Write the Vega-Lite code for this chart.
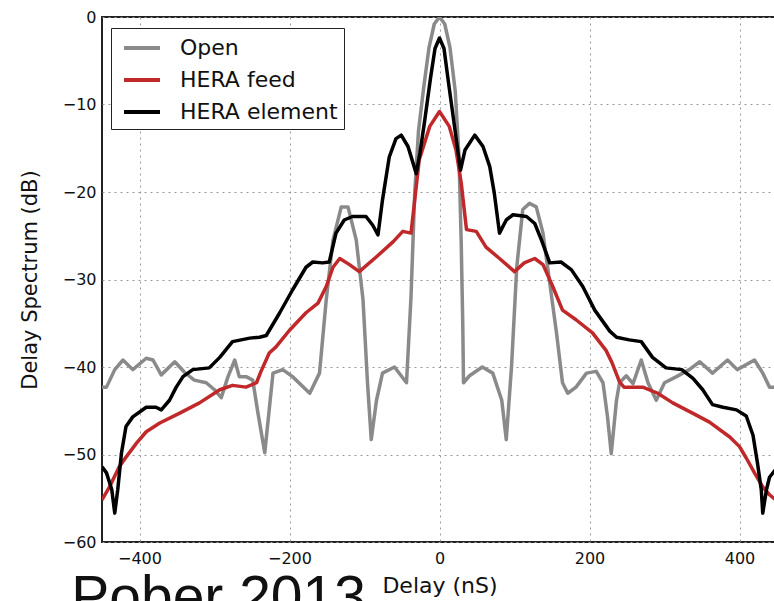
{
  "$schema": "https://vega.github.io/schema/vega-lite/v6.json",
  "width": 675,
  "height": 525,
  "autosize": {"type": "none"},
  "padding": {"left": 102, "top": 17, "right": 0, "bottom": 59},
  "background": "white",
  "config": {
    "font": "DejaVu Sans",
    "view": {"stroke": "#222222", "strokeWidth": 2},
    "axis": {
      "grid": true,
      "gridColor": "#999999",
      "gridDash": [2, 4],
      "gridWidth": 1,
      "ticks": false,
      "domain": false,
      "labelFont": "DejaVu Sans",
      "labelFontSize": 16,
      "labelColor": "#111111",
      "titleFont": "DejaVu Sans",
      "titleFontSize": 21,
      "titleFontWeight": "normal",
      "titleColor": "#111111"
    }
  },
  "title": {
    "text": "Pober 2013",
    "orient": "bottom",
    "anchor": "start",
    "font": "Liberation Sans",
    "fontSize": 57,
    "fontWeight": "normal",
    "color": "#111111",
    "baseline": "top",
    "offset": -25,
    "dx": 52
  },
  "data": {
    "values": [
      {"series": "Open", "delay": -450, "db": -42.3},
      {"series": "Open", "delay": -444, "db": -42.3},
      {"series": "Open", "delay": -433, "db": -40.3},
      {"series": "Open", "delay": -422, "db": -39.2},
      {"series": "Open", "delay": -409, "db": -40.3},
      {"series": "Open", "delay": -391, "db": -39.0},
      {"series": "Open", "delay": -382, "db": -39.2},
      {"series": "Open", "delay": -371, "db": -40.9},
      {"series": "Open", "delay": -353, "db": -39.4},
      {"series": "Open", "delay": -340, "db": -40.6},
      {"series": "Open", "delay": -327, "db": -41.5},
      {"series": "Open", "delay": -311, "db": -41.8},
      {"series": "Open", "delay": -300, "db": -42.6},
      {"series": "Open", "delay": -291, "db": -43.5},
      {"series": "Open", "delay": -282, "db": -41.1},
      {"series": "Open", "delay": -273, "db": -39.2},
      {"series": "Open", "delay": -267, "db": -41.1},
      {"series": "Open", "delay": -258, "db": -41.1},
      {"series": "Open", "delay": -249, "db": -41.5},
      {"series": "Open", "delay": -242, "db": -45.3},
      {"series": "Open", "delay": -233, "db": -49.8},
      {"series": "Open", "delay": -226, "db": -44.0},
      {"series": "Open", "delay": -222, "db": -40.7},
      {"series": "Open", "delay": -209, "db": -40.3},
      {"series": "Open", "delay": -196, "db": -41.1},
      {"series": "Open", "delay": -173, "db": -43.0},
      {"series": "Open", "delay": -160, "db": -40.7},
      {"series": "Open", "delay": -151, "db": -32.3},
      {"series": "Open", "delay": -142, "db": -25.5},
      {"series": "Open", "delay": -131, "db": -21.7},
      {"series": "Open", "delay": -122, "db": -21.7},
      {"series": "Open", "delay": -111, "db": -25.5},
      {"series": "Open", "delay": -102, "db": -32.3},
      {"series": "Open", "delay": -96, "db": -41.8},
      {"series": "Open", "delay": -91, "db": -48.3},
      {"series": "Open", "delay": -84, "db": -43.8},
      {"series": "Open", "delay": -76, "db": -40.7},
      {"series": "Open", "delay": -60, "db": -40.0},
      {"series": "Open", "delay": -44, "db": -41.8},
      {"series": "Open", "delay": -38, "db": -32.0},
      {"series": "Open", "delay": -33, "db": -20.0},
      {"series": "Open", "delay": -28, "db": -13.0},
      {"series": "Open", "delay": -21, "db": -8.0},
      {"series": "Open", "delay": -14, "db": -3.5},
      {"series": "Open", "delay": -7, "db": -0.8},
      {"series": "Open", "delay": 0, "db": 0.0},
      {"series": "Open", "delay": 7, "db": -0.8},
      {"series": "Open", "delay": 14, "db": -3.5},
      {"series": "Open", "delay": 21, "db": -8.5},
      {"series": "Open", "delay": 26, "db": -16.0},
      {"series": "Open", "delay": 29, "db": -26.0},
      {"series": "Open", "delay": 31, "db": -35.0},
      {"series": "Open", "delay": 32, "db": -41.8},
      {"series": "Open", "delay": 40, "db": -41.0},
      {"series": "Open", "delay": 57, "db": -40.0},
      {"series": "Open", "delay": 71, "db": -40.7},
      {"series": "Open", "delay": 83, "db": -43.8},
      {"series": "Open", "delay": 89, "db": -48.3},
      {"series": "Open", "delay": 96, "db": -40.0},
      {"series": "Open", "delay": 103, "db": -28.6},
      {"series": "Open", "delay": 111, "db": -22.0},
      {"series": "Open", "delay": 120, "db": -21.3},
      {"series": "Open", "delay": 129, "db": -21.7},
      {"series": "Open", "delay": 138, "db": -24.7},
      {"series": "Open", "delay": 147, "db": -30.4},
      {"series": "Open", "delay": 156, "db": -36.1},
      {"series": "Open", "delay": 164, "db": -41.8},
      {"series": "Open", "delay": 171, "db": -43.0},
      {"series": "Open", "delay": 182, "db": -42.3},
      {"series": "Open", "delay": 196, "db": -40.7},
      {"series": "Open", "delay": 209, "db": -40.5},
      {"series": "Open", "delay": 218, "db": -41.8},
      {"series": "Open", "delay": 224, "db": -45.7},
      {"series": "Open", "delay": 229, "db": -49.9},
      {"series": "Open", "delay": 236, "db": -43.8},
      {"series": "Open", "delay": 240, "db": -41.8},
      {"series": "Open", "delay": 249, "db": -41.0},
      {"series": "Open", "delay": 258, "db": -41.9},
      {"series": "Open", "delay": 269, "db": -39.2},
      {"series": "Open", "delay": 278, "db": -41.8},
      {"series": "Open", "delay": 289, "db": -43.8},
      {"series": "Open", "delay": 300, "db": -41.8},
      {"series": "Open", "delay": 316, "db": -41.1},
      {"series": "Open", "delay": 333, "db": -40.3},
      {"series": "Open", "delay": 347, "db": -39.4},
      {"series": "Open", "delay": 364, "db": -40.7},
      {"series": "Open", "delay": 384, "db": -39.2},
      {"series": "Open", "delay": 397, "db": -40.3},
      {"series": "Open", "delay": 420, "db": -39.2},
      {"series": "Open", "delay": 431, "db": -40.7},
      {"series": "Open", "delay": 440, "db": -42.3},
      {"series": "Open", "delay": 450, "db": -42.3},

      {"series": "HERA feed", "delay": -450, "db": -55.2},
      {"series": "HERA feed", "delay": -440, "db": -53.7},
      {"series": "HERA feed", "delay": -427, "db": -51.4},
      {"series": "HERA feed", "delay": -418, "db": -50.3},
      {"series": "HERA feed", "delay": -404, "db": -48.7},
      {"series": "HERA feed", "delay": -391, "db": -47.4},
      {"series": "HERA feed", "delay": -373, "db": -46.4},
      {"series": "HERA feed", "delay": -347, "db": -45.3},
      {"series": "HERA feed", "delay": -320, "db": -44.1},
      {"series": "HERA feed", "delay": -293, "db": -42.6},
      {"series": "HERA feed", "delay": -276, "db": -42.1},
      {"series": "HERA feed", "delay": -258, "db": -42.3},
      {"series": "HERA feed", "delay": -244, "db": -41.8},
      {"series": "HERA feed", "delay": -238, "db": -40.5},
      {"series": "HERA feed", "delay": -227, "db": -38.4},
      {"series": "HERA feed", "delay": -218, "db": -37.7},
      {"series": "HERA feed", "delay": -200, "db": -35.8},
      {"series": "HERA feed", "delay": -178, "db": -33.8},
      {"series": "HERA feed", "delay": -162, "db": -32.7},
      {"series": "HERA feed", "delay": -151, "db": -30.8},
      {"series": "HERA feed", "delay": -142, "db": -28.6},
      {"series": "HERA feed", "delay": -133, "db": -27.6},
      {"series": "HERA feed", "delay": -120, "db": -28.3},
      {"series": "HERA feed", "delay": -107, "db": -29.1},
      {"series": "HERA feed", "delay": -84, "db": -27.4},
      {"series": "HERA feed", "delay": -62, "db": -25.7},
      {"series": "HERA feed", "delay": -49, "db": -24.5},
      {"series": "HERA feed", "delay": -38, "db": -24.7},
      {"series": "HERA feed", "delay": -33, "db": -20.9},
      {"series": "HERA feed", "delay": -27, "db": -16.3},
      {"series": "HERA feed", "delay": -13, "db": -12.5},
      {"series": "HERA feed", "delay": 0, "db": -10.8},
      {"series": "HERA feed", "delay": 13, "db": -12.5},
      {"series": "HERA feed", "delay": 22, "db": -15.2},
      {"series": "HERA feed", "delay": 29, "db": -19.0},
      {"series": "HERA feed", "delay": 36, "db": -24.3},
      {"series": "HERA feed", "delay": 49, "db": -24.5},
      {"series": "HERA feed", "delay": 62, "db": -26.3},
      {"series": "HERA feed", "delay": 80, "db": -27.6},
      {"series": "HERA feed", "delay": 100, "db": -29.1},
      {"series": "HERA feed", "delay": 113, "db": -28.1},
      {"series": "HERA feed", "delay": 127, "db": -27.6},
      {"series": "HERA feed", "delay": 138, "db": -28.3},
      {"series": "HERA feed", "delay": 151, "db": -30.8},
      {"series": "HERA feed", "delay": 164, "db": -33.5},
      {"series": "HERA feed", "delay": 182, "db": -34.6},
      {"series": "HERA feed", "delay": 204, "db": -36.1},
      {"series": "HERA feed", "delay": 222, "db": -38.1},
      {"series": "HERA feed", "delay": 230, "db": -39.5},
      {"series": "HERA feed", "delay": 240, "db": -41.7},
      {"series": "HERA feed", "delay": 246, "db": -42.3},
      {"series": "HERA feed", "delay": 271, "db": -42.3},
      {"series": "HERA feed", "delay": 291, "db": -43.0},
      {"series": "HERA feed", "delay": 311, "db": -44.1},
      {"series": "HERA feed", "delay": 338, "db": -45.3},
      {"series": "HERA feed", "delay": 360, "db": -46.3},
      {"series": "HERA feed", "delay": 387, "db": -48.0},
      {"series": "HERA feed", "delay": 400, "db": -49.1},
      {"series": "HERA feed", "delay": 409, "db": -50.4},
      {"series": "HERA feed", "delay": 420, "db": -52.1},
      {"series": "HERA feed", "delay": 431, "db": -53.7},
      {"series": "HERA feed", "delay": 440, "db": -54.6},
      {"series": "HERA feed", "delay": 450, "db": -55.3},

      {"series": "HERA element", "delay": -450, "db": -51.4},
      {"series": "HERA element", "delay": -444, "db": -52.1},
      {"series": "HERA element", "delay": -437, "db": -54.0},
      {"series": "HERA element", "delay": -433, "db": -56.7},
      {"series": "HERA element", "delay": -429, "db": -54.0},
      {"series": "HERA element", "delay": -424, "db": -49.8},
      {"series": "HERA element", "delay": -418, "db": -46.8},
      {"series": "HERA element", "delay": -409, "db": -45.7},
      {"series": "HERA element", "delay": -391, "db": -44.6},
      {"series": "HERA element", "delay": -378, "db": -44.6},
      {"series": "HERA element", "delay": -371, "db": -44.9},
      {"series": "HERA element", "delay": -360, "db": -43.8},
      {"series": "HERA element", "delay": -351, "db": -42.3},
      {"series": "HERA element", "delay": -342, "db": -41.1},
      {"series": "HERA element", "delay": -329, "db": -40.3},
      {"series": "HERA element", "delay": -307, "db": -40.1},
      {"series": "HERA element", "delay": -293, "db": -38.9},
      {"series": "HERA element", "delay": -276, "db": -37.1},
      {"series": "HERA element", "delay": -253, "db": -36.7},
      {"series": "HERA element", "delay": -240, "db": -36.6},
      {"series": "HERA element", "delay": -231, "db": -36.4},
      {"series": "HERA element", "delay": -213, "db": -33.8},
      {"series": "HERA element", "delay": -196, "db": -31.2},
      {"series": "HERA element", "delay": -178, "db": -28.6},
      {"series": "HERA element", "delay": -169, "db": -28.0},
      {"series": "HERA element", "delay": -156, "db": -28.1},
      {"series": "HERA element", "delay": -147, "db": -28.0},
      {"series": "HERA element", "delay": -138, "db": -24.7},
      {"series": "HERA element", "delay": -127, "db": -23.2},
      {"series": "HERA element", "delay": -116, "db": -22.8},
      {"series": "HERA element", "delay": -98, "db": -22.8},
      {"series": "HERA element", "delay": -89, "db": -23.8},
      {"series": "HERA element", "delay": -82, "db": -24.9},
      {"series": "HERA element", "delay": -76, "db": -20.9},
      {"series": "HERA element", "delay": -67, "db": -16.0},
      {"series": "HERA element", "delay": -58, "db": -13.9},
      {"series": "HERA element", "delay": -51, "db": -13.5},
      {"series": "HERA element", "delay": -42, "db": -14.8},
      {"series": "HERA element", "delay": -31, "db": -17.9},
      {"series": "HERA element", "delay": -26, "db": -15.5},
      {"series": "HERA element", "delay": -20, "db": -12.0},
      {"series": "HERA element", "delay": -12, "db": -7.0},
      {"series": "HERA element", "delay": -6, "db": -3.6},
      {"series": "HERA element", "delay": 0, "db": -2.4},
      {"series": "HERA element", "delay": 6, "db": -3.6},
      {"series": "HERA element", "delay": 12, "db": -7.5},
      {"series": "HERA element", "delay": 20, "db": -12.5},
      {"series": "HERA element", "delay": 28, "db": -17.5},
      {"series": "HERA element", "delay": 34, "db": -15.2},
      {"series": "HERA element", "delay": 47, "db": -13.5},
      {"series": "HERA element", "delay": 58, "db": -14.8},
      {"series": "HERA element", "delay": 67, "db": -17.1},
      {"series": "HERA element", "delay": 73, "db": -20.1},
      {"series": "HERA element", "delay": 80, "db": -24.7},
      {"series": "HERA element", "delay": 89, "db": -23.2},
      {"series": "HERA element", "delay": 98, "db": -22.6},
      {"series": "HERA element", "delay": 116, "db": -22.8},
      {"series": "HERA element", "delay": 127, "db": -23.6},
      {"series": "HERA element", "delay": 136, "db": -25.5},
      {"series": "HERA element", "delay": 147, "db": -28.1},
      {"series": "HERA element", "delay": 162, "db": -28.0},
      {"series": "HERA element", "delay": 176, "db": -28.9},
      {"series": "HERA element", "delay": 191, "db": -30.8},
      {"series": "HERA element", "delay": 207, "db": -33.5},
      {"series": "HERA element", "delay": 227, "db": -35.9},
      {"series": "HERA element", "delay": 236, "db": -36.6},
      {"series": "HERA element", "delay": 253, "db": -36.9},
      {"series": "HERA element", "delay": 269, "db": -37.1},
      {"series": "HERA element", "delay": 284, "db": -38.9},
      {"series": "HERA element", "delay": 302, "db": -40.1},
      {"series": "HERA element", "delay": 323, "db": -40.3},
      {"series": "HERA element", "delay": 338, "db": -41.3},
      {"series": "HERA element", "delay": 351, "db": -42.6},
      {"series": "HERA element", "delay": 364, "db": -44.3},
      {"series": "HERA element", "delay": 378, "db": -44.6},
      {"series": "HERA element", "delay": 396, "db": -44.9},
      {"series": "HERA element", "delay": 409, "db": -45.6},
      {"series": "HERA element", "delay": 418, "db": -47.8},
      {"series": "HERA element", "delay": 424, "db": -51.0},
      {"series": "HERA element", "delay": 429, "db": -54.0},
      {"series": "HERA element", "delay": 431, "db": -56.7},
      {"series": "HERA element", "delay": 436, "db": -54.0},
      {"series": "HERA element", "delay": 440, "db": -52.6},
      {"series": "HERA element", "delay": 450, "db": -51.5}
    ]
  },
  "mark": {"type": "line", "strokeWidth": 3.5, "clip": true, "strokeJoin": "round"},
  "encoding": {
    "x": {
      "field": "delay",
      "type": "quantitative",
      "scale": {"domain": [-450, 450], "nice": false, "zero": false},
      "axis": {"values": [-400, -200, 0, 200, 400], "title": "Delay (nS)", "titleFontSize": 22, "labelPadding": 8, "titlePadding": 9}
    },
    "y": {
      "field": "db",
      "type": "quantitative",
      "scale": {"domain": [-60, 0], "nice": false},
      "axis": {"values": [-60, -50, -40, -30, -20, -10, 0], "title": "Delay Spectrum (dB)", "labelPadding": 6, "titlePadding": 22}
    },
    "color": {
      "field": "series",
      "type": "nominal",
      "sort": ["Open", "HERA feed", "HERA element"],
      "scale": {"domain": ["Open", "HERA feed", "HERA element"], "range": ["#8a8a8a", "#c0282a", "#000000"]},
      "legend": {
        "title": null,
        "orient": "none",
        "legendX": 9,
        "legendY": 11,
        "symbolType": "M-1.5,0H1.5",
        "symbolSize": 576,
        "symbolStrokeWidth": 4,
        "symbolOffset": 11,
        "labelFont": "DejaVu Sans",
        "labelFontSize": 22,
        "labelColor": "#111111",
        "labelOffset": 24,
        "rowPadding": 7,
        "padding": 6,
        "strokeColor": "#222222",
        "fillColor": "white",
        "cornerRadius": 0
      }
    }
  }
}
